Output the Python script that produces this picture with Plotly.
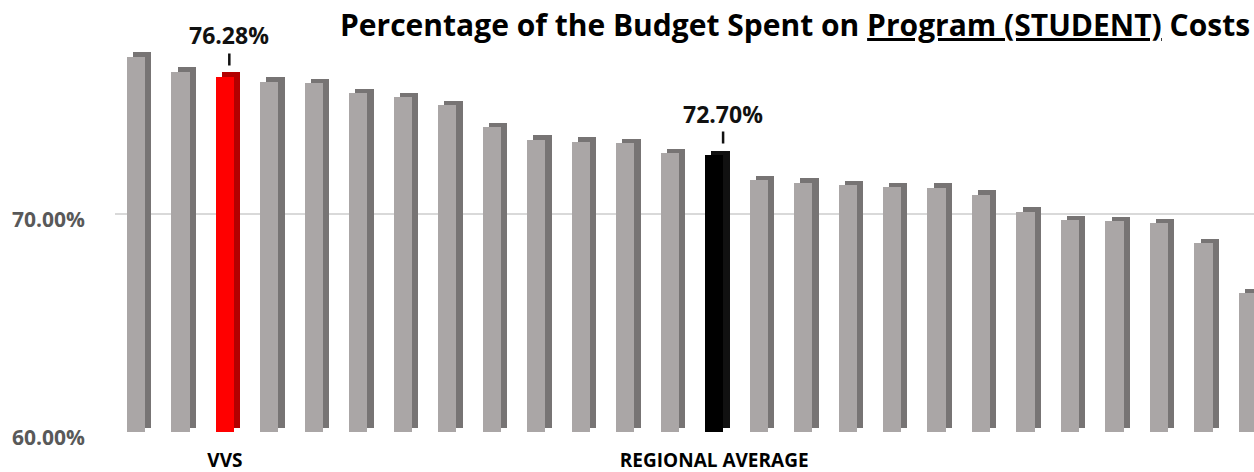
import plotly.graph_objects as go

# ---- data ----
values = [77.20, 76.51, 76.28, 76.05, 76.00, 75.54, 75.36, 74.99, 73.98,
          73.39, 73.30, 73.25, 72.79, 72.70, 71.55, 71.42, 71.32, 71.23,
          71.19, 70.87, 70.09, 69.72, 69.67, 69.58, 68.66, 66.37]
labels = ["", "", "VVS", "", "", "", "", "", "", "", "", "", "",
          "REGIONAL AVERAGE", "", "", "", "", "", "", "", "", "", "", "", ""]
highlight_idx = [2, 13]
y_tickvals = [60, 70]
y_ticktext = ["60.00%", "70.00%"]
title_text = "Percentage of the Budget Spent on <u>Program (STUDENT)</u> Costs"

# ---- styling ----
x = list(range(len(values)))
front_cols = ["#aaa6a6"] * len(values)
side_cols = ["#777474"] * len(values)
front_cols[2] = "#ff0000"; side_cols[2] = "#b30000"
front_cols[13] = "#000000"; side_cols[13] = "#111111"

BASE = 60
DEPTH_Y = 0.2      # vertical depth of the 3D effect (axis units)
FRONT_W = 0.41
DEPTH_X = 0.14

fig = go.Figure()
# side / top face (drawn behind, shifted right and up)
fig.add_trace(go.Bar(
    x=x, y=[v - BASE for v in values], base=[BASE + DEPTH_Y] * len(values),
    width=FRONT_W, offset=-FRONT_W / 2 + DEPTH_X,
    marker=dict(color=side_cols, line=dict(width=0)),
    hoverinfo="skip", showlegend=False))
# front face
fig.add_trace(go.Bar(
    x=x, y=[v - BASE for v in values], base=[BASE] * len(values),
    width=FRONT_W, offset=-FRONT_W / 2,
    marker=dict(color=front_cols, line=dict(width=0)),
    hovertemplate="%{y:.2f}%<extra></extra>", showlegend=False))

label_dx = [0.1, 0.2]
for k, i in enumerate(highlight_idx):
    fig.add_annotation(
        x=x[i] + label_dx[k], y=values[i] + DEPTH_Y, text=f"<b>{values[i]:.2f}%</b>",
        showarrow=True, arrowhead=0, arrowwidth=2.5, arrowcolor="#111111",
        ax=0, ay=-19, standoff=7,
        font=dict(family="Open Sans", size=23, color="#111111"),
        yanchor="bottom")

fig.add_annotation(
    x=1, xref="paper", xanchor="right", y=1, yref="paper", yanchor="top",
    xshift=-2, yshift=-2, text=f"<b>{title_text}</b>", showarrow=False,
    font=dict(family="Open Sans", size=30, color="#000000"))

fig.update_layout(
    width=1254, height=472,
    margin=dict(l=115, r=0, t=0, b=40, autoexpand=False),
    paper_bgcolor="white", plot_bgcolor="white",
    barmode="overlay", bargap=0,
    xaxis=dict(range=[-0.47, 25.135], tickvals=x, ticktext=[f"<b>{l}</b>" for l in labels],
               tickfont=dict(family="Open Sans", size=19, color="#000000"),
               tickangle=0, automargin=False,
               showgrid=False, zeroline=False, showline=False, ticks="",
               ticklabelstandoff=15),
    yaxis=dict(range=[60, 79.8], tickvals=y_tickvals,
               ticktext=[f"<b>{t}</b>" for t in y_ticktext],
               tickfont=dict(family="Open Sans", size=21, color="#595959"),
               automargin=False, ticklabelshift=6,
               showgrid=True, gridcolor="#d9d9d9", gridwidth=1.5,
               zeroline=False, showline=False, ticks="", ticklabelstandoff=29),
)

fig.write_html("out.html", config={"displayModeBar": False},
               post_script="document.body.style.margin='0';document.body.style.overflow='hidden';")
